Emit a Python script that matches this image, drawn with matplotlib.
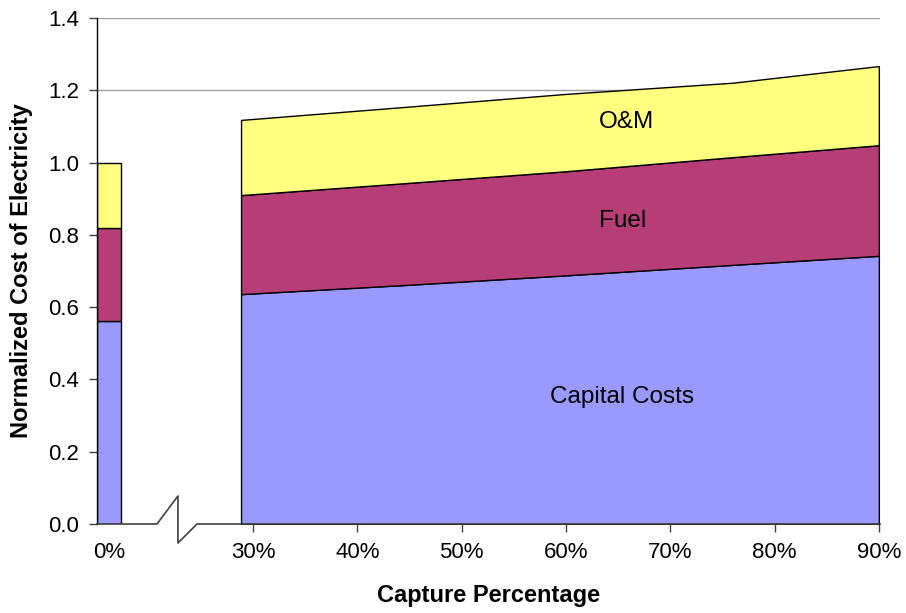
import numpy as np
import matplotlib
matplotlib.use("Agg")
import matplotlib.pyplot as plt
import matplotlib.transforms as mtransforms

plt.rcParams['font.family'] = ['Liberation Sans', 'DejaVu Sans']

# datos
capture = [28.85, 45, 60, 76, 90]          # % de captura
capital = [0.636, 0.662, 0.688, 0.717, 0.742]
fuel = [0.274, 0.282, 0.288, 0.298, 0.306]
om = [0.208, 0.211, 0.214, 0.206, 0.219]

# caso sin captura (0%)
base_capital = 0.562
base_fuel = 0.257
base_om = 0.181

xtick_vals = [30, 40, 50, 60, 70, 80, 90]
ytick_vals = [0.0, 0.2, 0.4, 0.6, 0.8, 1.0, 1.2, 1.4]
grid_vals = [1.2, 1.4]

col_capital = '#9999FF'
col_fuel = '#B73D77'
col_om = '#FFFF80'

# posicion del 0% en el eje roto
x_left = 15.04
bar_w = 2.3
bar_pos = x_left + bar_w / 2

fig = plt.figure(figsize=(9.06, 6.13), dpi=100)
ax = fig.add_axes([97 / 906, 89 / 613, 783 / 906, 506 / 613])

for g in grid_vals:
    ax.axhline(g, color='#a0a0a0', lw=1, zorder=0)

# barra 0%
bottom = 0
for val, c in zip([base_capital, base_fuel, base_om], [col_capital, col_fuel, col_om]):
    ax.bar(bar_pos, val, width=bar_w, bottom=bottom, color=c, edgecolor='black', linewidth=1, zorder=2)
    bottom += val

# areas apiladas
ax.stackplot(capture, capital, fuel, om, colors=[col_capital, col_fuel, col_om],
             edgecolor='black', linewidth=1, zorder=2)

ax.set_xlim(x_left, 90.11)
ax.set_ylim(0, 1.4)

ax.set_yticks(ytick_vals)
ax.set_yticklabels([f'{v:.1f}' for v in ytick_vals])
ax.set_xticks([bar_pos] + xtick_vals)
ax.set_xticklabels(['0%'] + [f'{v}%' for v in xtick_vals])
ax.xaxis.get_major_ticks()[0].tick1line.set_visible(False)
ax.tick_params(axis='both', labelsize=16, direction='out', length=6, width=1, color='#404040', pad=7)

for s in ['top', 'right', 'bottom']:
    ax.spines[s].set_visible(False)
ax.spines['left'].set_linewidth(1)

# eje x con corte
trans = mtransforms.blended_transform_factory(ax.transData, ax.transAxes)
off = 28 / 506
ax.plot([x_left, 20.79, 22.8, 22.8, 24.63, 90.11], [0, 0, off, -19 / 506, 0, 0],
        color='#404040', lw=1.2, transform=trans, clip_on=False, zorder=3)

ax.text(65.8, 1.112, 'O&M', fontsize=17.5, ha='center', va='center', zorder=4)
ax.text(65.4, 0.838, 'Fuel', fontsize=17.5, ha='center', va='center', zorder=4)
ax.text(65.4, 0.351, 'Capital Costs', fontsize=17.5, ha='center', va='center', zorder=4)

ax.set_xlabel('Capture Percentage', fontsize=17, fontweight='bold')
ax.set_ylabel('Normalized Cost of Electricity', fontsize=17, fontweight='bold')
ax.xaxis.set_label_coords(0.5, -0.118)
ax.yaxis.set_label_coords(-0.082, 0.5)

fig.savefig('out.png', dpi=100)
